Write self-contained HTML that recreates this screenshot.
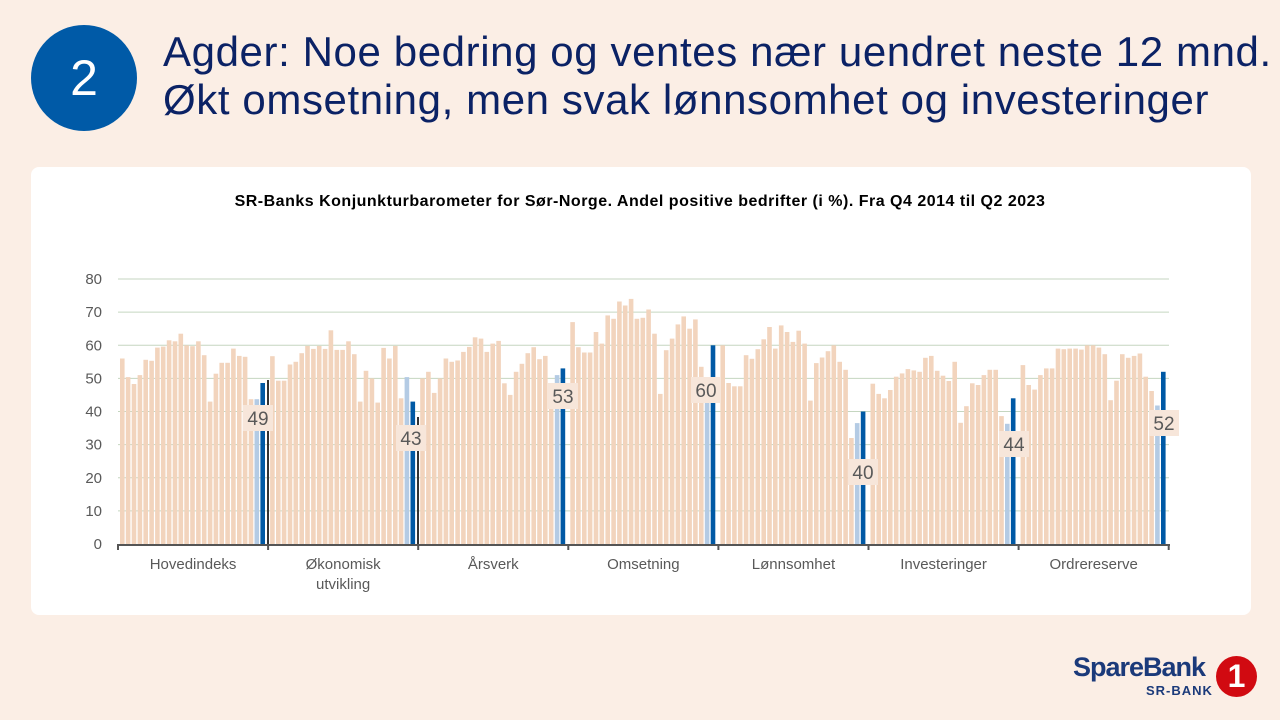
<!DOCTYPE html>
<html><head><meta charset="utf-8"><style>
body{margin:0;width:1280px;height:720px;background:#fbeee5;overflow:hidden;font-family:"Liberation Sans",sans-serif;position:relative}
.circ{position:absolute;left:31px;top:25px;width:106px;height:106px;border-radius:50%;background:#005aa7;color:#fff;font-size:50px;text-align:center;line-height:106px}
.h{position:absolute;left:163px;color:#0b2265;font-size:42px;white-space:nowrap;letter-spacing:0.6px}
.card{position:absolute;left:31px;top:167px;width:1220px;height:448px;background:#fff;border-radius:8px}
</style></head><body>
<div class="circ">2</div>
<div class="h" style="top:28px">Agder: Noe bedring og ventes nær uendret neste 12 mnd.</div>
<div class="h" style="top:76px">Økt omsetning, men svak lønnsomhet og investeringer</div>
<div class="card"></div>
<svg id="s" width="1280" height="720" style="position:absolute;left:0;top:0" font-family="Liberation Sans, sans-serif"></svg>
<div style="position:absolute;left:1073px;top:652px;color:#1b3a7a;font-weight:bold;font-size:27px;letter-spacing:-1px">SpareBank</div>
<div style="position:absolute;left:1146px;top:683px;color:#1b3a7a;font-weight:bold;font-size:13px;letter-spacing:1px">SR-BANK</div>
<div style="position:absolute;left:1216px;top:656px;width:41px;height:41px;border-radius:50%;background:#d10a11;color:#fff;font-weight:bold;font-size:32px;text-align:center;line-height:41px">1</div>
<script>
var D=[
[56,50.4,48.3,51,55.6,55.3,59.3,59.6,61.5,61.2,63.5,60,59.7,61.2,57,43,51.4,54.7,54.7,59,56.8,56.5,43.7,43.7,48.6],
[56.7,49.3,49.3,54.2,55,57.6,59.8,58.9,59.8,58.9,64.5,58.6,58.6,61.2,57.3,43,52.3,50,42.7,59.2,56,59.8,44,50.4,43],
[50,52,45.6,50,56,55,55.4,58,59.5,62.4,62,58,60.5,61.3,48.5,45,52,54.4,57.6,59.4,55.8,56.8,48,51,53],
[67,59.4,57.8,57.8,64,60.5,69,68,73.2,72,74,68,68.3,70.8,63.5,45.3,58.5,62,66.3,68.7,65,67.8,53.5,48,60],
[60,48.6,47.6,47.6,57,55.9,58.8,61.8,65.5,59,66,64,61,64.4,60.5,43.3,54.6,56.3,58.2,60,55,52.6,32,36.5,40],
[48.4,45.3,44,46.5,50.5,51.5,52.8,52.4,52,56.2,56.8,52.3,50.8,49.2,55,36.6,41.6,48.5,48,51,52.6,52.6,38.6,36.3,44],
[54,48,46.6,51,53,53,59,58.8,59,59,58.7,60,60,59.3,57.3,43.4,49.3,57.3,56.2,56.8,57.5,50.5,46.2,41.8,52]];
var names=[["Hovedindeks"],["Økonomisk","utvikling"],["Årsverk"],["Omsetning"],["Lønnsomhet"],["Investeringer"],["Ordrereserve"]];
var lab=[[258,418,"49"],[411,438,"43"],[563,396,"53"],[706,390,"60"],[863,472,"40"],[1014,444,"44"],[1164,423,"52"]];
var y0=544,k=265/80,x0=118,gw=150.1,h='';
h+='<text x="640" y="206" text-anchor="middle" font-size="16" font-weight="bold" letter-spacing="0.5" fill="#000">SR-Banks Konjunkturbarometer  for Sør-Norge. Andel positive bedrifter (i %). Fra Q4 2014 til Q2 2023</text>';
for(var v=0;v<=80;v+=10){var y=y0-v*k;if(v>0)h+='<line x1="118" x2="1169" y1="'+y+'" y2="'+y+'" stroke="#c5d6c0" stroke-width="1"/>';
h+='<text x="102" y="'+(y+5)+'" text-anchor="end" font-size="15" fill="#595959">'+v+'</text>';}
D.forEach(function(g,i){var gx=x0+i*gw+2;g.forEach(function(v,j){var c=j<23?'#f2d4bd':(j==23?'#b4cbe4':'#0059a5');
var x=gx+j*5.85,hh=v*k;h+='<rect x="'+x.toFixed(1)+'" y="'+(y0-hh).toFixed(1)+'" width="4.6" height="'+hh.toFixed(1)+'" fill="'+c+'"/>';});
names[i].forEach(function(t,l){h+='<text x="'+(x0+i*gw+gw/2)+'" y="'+(569+l*20)+'" text-anchor="middle" font-size="15" fill="#595959">'+t+'</text>';});});
h+='<line x1="268" x2="268" y1="380" y2="546" stroke="#333" stroke-width="2"/>';
h+='<line x1="418" x2="418" y1="417" y2="546" stroke="#333" stroke-width="2"/>';
h+='<line x1="117" x2="1170" y1="545" y2="545" stroke="#555" stroke-width="2"/>';
for(var i=0;i<=7;i++){var x=x0+i*gw;h+='<line x1="'+x+'" x2="'+x+'" y1="544" y2="550" stroke="#555" stroke-width="2"/>';}
lab.forEach(function(l){h+='<rect x="'+(l[0]-15)+'" y="'+(l[1]-13)+'" width="30" height="26" fill="#f7e6da"/><text x="'+l[0]+'" y="'+(l[1]+7)+'" text-anchor="middle" font-size="19" fill="#595959">'+l[2]+'</text>';});
document.getElementById('s').innerHTML=h;
</script>
</body></html>
